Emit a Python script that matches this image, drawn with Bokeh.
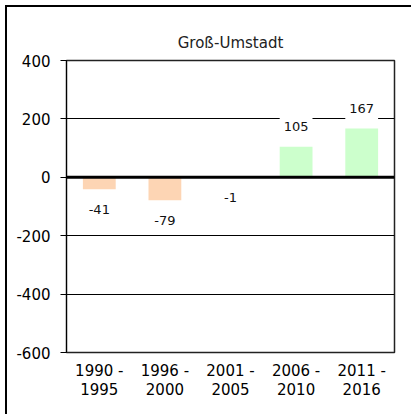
from bokeh.plotting import figure
from bokeh.models import Span, ColumnDataSource, FixedTicker
from bokeh.embed import file_html
from bokeh.resources import INLINE
from bokeh.core.properties import value

# ---- data ----
periods = ["1990 -\n1995", "1996 -\n2000", "2001 -\n2005", "2006 -\n2010", "2011 -\n2016"]
changes = [-41, -79, -1, 105, 167]
y_ticks = [-600, -400, -200, 0, 200, 400]
title_text = "Groß-Umstadt"

NEG = "#FDD5B4"
POS = "#CCFFCC"
FONT = "DejaVu Sans"

colors = [POS if v >= 0 else NEG for v in changes]
labels = [str(v) for v in changes]
offsets = [-20 if v >= 0 else 20 for v in changes]

src = ColumnDataSource(dict(x=periods, top=changes, color=colors, label=labels, off=offsets))

p = figure(x_range=periods, y_range=(-600, 400), frame_width=328, frame_height=292,
           min_border_left=59, min_border_right=17, min_border_top=53, min_border_bottom=62,
           output_backend="svg", toolbar_location=None)

p.vbar(x="x", top="top", bottom=0, width=0.5, color="color", line_color=None, source=src)

# grid
p.xgrid.grid_line_color = None
p.ygrid.ticker = FixedTicker(ticks=y_ticks)
p.ygrid.grid_line_color = "black"
p.ygrid.grid_line_width = 1

p.add_layout(Span(location=0, dimension="width", line_color="black", line_width=3))

p.text(x="x", y="top", text="label", y_offset="off", source=src,
       text_align="center", text_baseline="middle", text_font=value(FONT),
       text_font_size="13px", text_color="#111111",
       background_fill_color="white", padding=(4, 8))

# axes
p.yaxis.ticker = FixedTicker(ticks=y_ticks)
p.yaxis.major_label_overrides = {t: str(t) for t in y_ticks}
p.yaxis.minor_tick_line_color = None
p.yaxis.major_tick_in = 0
p.yaxis.major_tick_out = 6
p.yaxis.major_label_standoff = 10
p.yaxis.major_label_text_font = FONT
p.yaxis.major_label_text_font_size = "15px"
p.yaxis.major_label_text_color = "black"
p.yaxis.axis_line_color = "black"
p.yaxis.major_tick_line_color = "black"

p.xaxis.major_tick_line_color = None
p.xaxis.axis_line_color = None
p.xaxis.major_label_standoff = 3
p.xaxis.major_label_text_font = FONT
p.xaxis.major_label_text_font_size = "15px"
p.xaxis.major_label_text_line_height = 1.1
p.xaxis.major_label_text_color = "black"

p.outline_line_color = "#222222"
p.outline_line_width = 1.5

p.title.text = title_text
p.title.align = "center"
p.title.offset = -12
p.title.standoff = 18
p.title.text_font = FONT
p.title.text_font_size = "15px"
p.title.text_font_style = "normal"
p.title.text_color = "#222222"

p.styles = {"border-top": "2px solid black", "border-left": "2px solid black",
            "margin-top": "5px", "margin-left": "5px"}

open("out.html", "w").write(file_html(p, INLINE))
